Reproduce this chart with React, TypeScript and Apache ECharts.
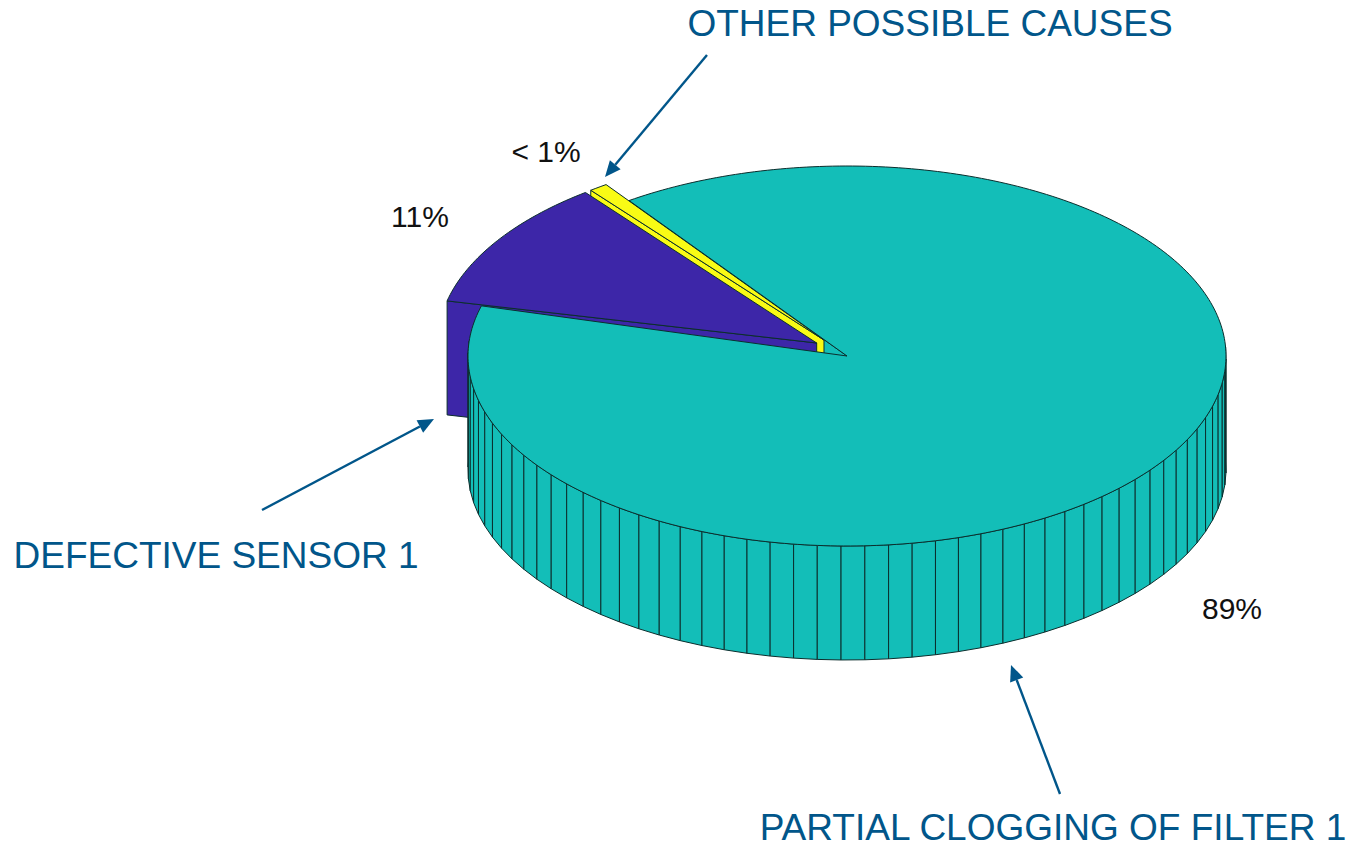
import React, { useEffect, useRef } from "react";
import * as echarts from "echarts";

// Slices in painting order, rearmost first.
const sliceNames = ["OTHER POSSIBLE CAUSES", "DEFECTIVE SENSOR 1", "PARTIAL CLOGGING OF FILTER 1"];
const sliceValues = [0.8, 11, 89];
const percentLabels = ["< 1%", "11%", "89%"];
const sliceColors = ["#F9FB15", "#3D26A8", "#13BEB8"];

// Where each slice begins on the disc, in degrees counter-clockwise from +x.
const sliceStarts = [125.1, 127.6, 164.7];
// How far each slice is pulled out of the disc, in disc units.
const explodeX = [-0.0607, -0.08, 0];
const explodeY = [0.084, 0.0684, 0];

const DEG_PER_PERCENT = 3.6;
const WALL_DROP = 0.6; // disc height, in y-axis units
const EDGE = "#0b2e2d";
const ANNOTATION = "#01568A";
const FONT = '"Liberation Sans", Arial, sans-serif';

const percentPositions = [
  [546, 151],
  [420, 216],
  [1232, 608],
];
const captionPositions = [
  [930, 23],
  [216, 555],
  [1053, 827],
];
const arrowTails = [
  [707, 55],
  [262, 510],
  [1060, 794],
];
const arrowTips = [
  [605, 177],
  [434, 419],
  [1011, 665],
];

function arrowGraphics(): any[] {
  return arrowTails.flatMap((tail, i) => {
    const tip = arrowTips[i];
    const dx = tip[0] - tail[0];
    const dy = tip[1] - tail[1];
    const len = Math.hypot(dx, dy);
    const ux = dx / len;
    const uy = dy / len;
    const headLen = 16;
    const headHalf = 7;
    const bx = tip[0] - ux * headLen;
    const by = tip[1] - uy * headLen;
    return [
      {
        type: "line",
        shape: { x1: tail[0], y1: tail[1], x2: bx, y2: by },
        style: { stroke: ANNOTATION, lineWidth: 2.4 },
        silent: true,
      },
      {
        type: "polygon",
        shape: {
          points: [
            tip,
            [bx - uy * headHalf, by + ux * headHalf],
            [bx + uy * headHalf, by - ux * headHalf],
          ],
        },
        style: { fill: ANNOTATION },
        silent: true,
      },
    ];
  });
}

function textGraphics(): any[] {
  const percents = percentLabels.map((text, i) => ({
    type: "text",
    x: percentPositions[i][0],
    y: percentPositions[i][1],
    style: {
      text,
      fill: "#111111",
      font: `30px ${FONT}`,
      textAlign: "center",
      textVerticalAlign: "middle",
    },
    silent: true,
  }));
  const captions = sliceNames.map((text, i) => ({
    type: "text",
    x: captionPositions[i][0],
    y: captionPositions[i][1],
    style: {
      text,
      fill: ANNOTATION,
      font: `37px ${FONT}`,
      textAlign: "center",
      textVerticalAlign: "middle",
    },
    silent: true,
  }));
  return [...percents, ...captions];
}

// Maps disc coordinates of one data row to pixels through the hidden axes.
function sliceGeometry(api: any) {
  const cx = api.value(0);
  const cy = api.value(1);
  const percent = api.value(2);
  const start = api.value(3);
  const span = percent * DEG_PER_PERCENT;
  const rim = (deg: number, drop = 0) => {
    const t = (deg * Math.PI) / 180;
    return api.coord([cx + Math.cos(t), cy + Math.sin(t) - drop]);
  };
  return {
    cx,
    cy,
    percent,
    start,
    span,
    end: start + span,
    rim,
    apexTop: api.coord([cx, cy]),
    apexLow: api.coord([cx, cy - WALL_DROP]),
    color: api.style().fill,
  };
}

// The far cut face of a slice, running from the axis to the end of its arc.
function cutFace(g: ReturnType<typeof sliceGeometry>) {
  return {
    type: "polygon",
    shape: { points: [g.apexTop, g.rim(g.end), g.rim(g.end, WALL_DROP), g.apexLow] },
    style: { fill: g.color, stroke: EDGE, lineWidth: 1, lineJoin: "round" },
  };
}

// Painted beneath the pulled-out slices, seen through the gap they leave.
function renderInnerFace(_params: any, api: any) {
  return cutFace(sliceGeometry(api));
}

// One slice of the extruded disc: facets of the outer wall, the cut face, then the lid.
function renderSlice(_params: any, api: any) {
  const g = sliceGeometry(api);
  const faceStyle = { fill: g.color, stroke: EDGE, lineWidth: 1, lineJoin: "round" };
  const children: any[] = [];

  // Walls are split into one facet per percent; only those facing the viewer are drawn.
  for (let k = 0; k < Math.ceil(g.percent); k++) {
    const a = g.start + k * DEG_PER_PERCENT;
    const b = Math.min(a + DEG_PER_PERCENT, g.end);
    if (Math.sin((((a + b) / 2) * Math.PI) / 180) > 0.05) continue;
    children.push({
      type: "polygon",
      shape: { points: [g.rim(a), g.rim(b), g.rim(b, WALL_DROP), g.rim(a, WALL_DROP)] },
      style: faceStyle,
    });
  }

  if (g.cx !== 0 || g.cy !== 0) children.push(cutFace(g));

  // Lid.
  const lid: number[][] = [g.apexTop];
  const steps = Math.max(2, Math.ceil(g.span));
  for (let i = 0; i <= steps; i++) lid.push(g.rim(g.start + (g.span * i) / steps));
  children.push({
    type: "polygon",
    shape: { points: lid },
    style: { fill: g.color, stroke: EDGE, lineWidth: 1, lineJoin: "round" },
  });

  return { type: "group", children };
}

export default function App() {
  const ref = useRef<HTMLDivElement>(null);

  useEffect(() => {
    if (!ref.current) return;
    const chart = echarts.init(ref.current, undefined, { renderer: "svg" });
    const rows = sliceValues.map((value, i) => ({
      name: sliceNames[i],
      value: [explodeX[i], explodeY[i], value, sliceStarts[i]],
      itemStyle: { color: sliceColors[i] },
    }));
    chart.setOption({
      animation: false,
      backgroundColor: "#ffffff",
      grid: { left: 468, top: 166, width: 758, height: 380 },
      xAxis: { type: "value", min: -1, max: 1, show: false },
      yAxis: { type: "value", min: -1, max: 1, show: false },
      series: [
        {
          type: "custom",
          coordinateSystem: "cartesian2d",
          clip: false,
          silent: true,
          renderItem: renderInnerFace,
          encode: { x: 0, y: 1 },
          data: rows.filter((r) => r.value[0] === 0 && r.value[1] === 0),
        },
        {
          type: "custom",
          coordinateSystem: "cartesian2d",
          clip: false,
          silent: true,
          renderItem: renderSlice,
          encode: { x: 0, y: 1 },
          data: rows,
        },
      ],
      graphic: { elements: [...arrowGraphics(), ...textGraphics()] },
    });
    return () => chart.dispose();
  }, []);

  return (
    <div
      ref={ref}
      style={{ position: "absolute", left: 0, top: 0, width: 1349, height: 843 }}
    />
  );
}
